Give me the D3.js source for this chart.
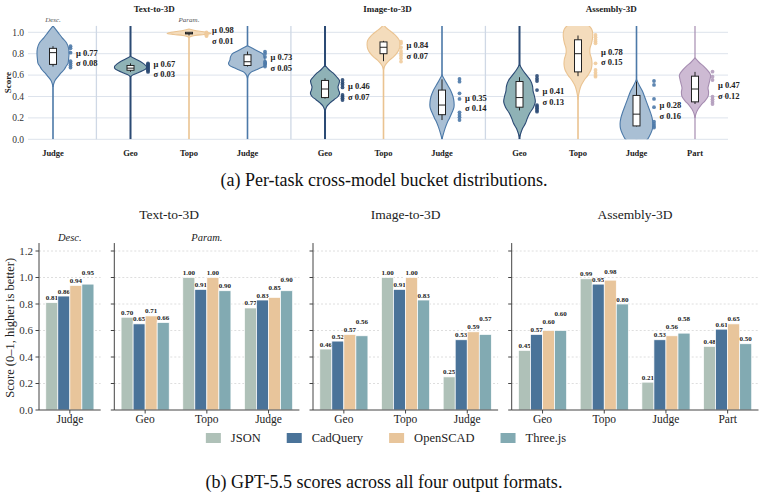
<!DOCTYPE html>
<html><head><meta charset="utf-8">
<script src="https://cdn.jsdelivr.net/npm/d3@7"></script>
<style>body{margin:0;background:#fff} svg{display:block} text{font-family:"Liberation Serif","Times New Roman",serif}</style>
</head><body><svg id="c" width="766" height="496"></svg>
<script>
// ---------------- Panel (a) data ----------------
const violinCats   = ["Judge","Geo","Topo","Judge","Geo","Topo","Judge","Geo","Topo","Judge","Part"];
const violinTask   = ["Text-to-3D","Text-to-3D","Text-to-3D","Text-to-3D","Image-to-3D","Image-to-3D","Image-to-3D","Assembly-3D","Assembly-3D","Assembly-3D","Assembly-3D"];
const violinSub    = ["Desc.","Param.","Param.","Param.","Image","Image","Image","Assembly","Assembly","Assembly","Assembly"];
const violinMean   = [0.77,0.67,0.98,0.73,0.46,0.84,0.35,0.41,0.78,0.28,0.47];
const violinSd     = [0.08,0.03,0.01,0.05,0.07,0.07,0.14,0.13,0.15,0.16,0.12];
// tail extent of each density estimate [low, high]
const violinRange  = [[0,1.1],[0,1.1],[0,1.0],[0,1.1],[0,1.1],[0,1.1],[0,1.1],[0,1.1],[0,1.1],[0,1.1],[0,1.1]];
// density profiles: [score, relative density]
const violinProfiles = [
  [[1.06,0],[1.0,.25],[0.95,.45],[0.90,.68],[0.85,.78],[0.80,.80],[0.75,.78],[0.71,.75],[0.68,.65],[0.65,.55],[0.62,.40],[0.585,.25],[0.55,.10],[0.52,.04],[0.49,0]],
  [[0.775,0],[0.75,.25],[0.72,.55],[0.70,.70],[0.68,.80],[0.66,.78],[0.64,.60],[0.62,.35],[0.60,.10],[0.585,0]],
  [[1.03,0],[1.015,.35],[1.0,.9],[0.99,1.1],[0.98,.75],[0.97,.3],[0.955,0]],
  [[0.875,0],[0.85,.25],[0.82,.55],[0.80,.75],[0.77,.85],[0.74,.88],[0.71,.95],[0.69,.90],[0.67,.70],[0.65,.45],[0.63,.20],[0.60,.05],[0.57,0]],
  [[0.69,0],[0.65,.2],[0.62,.4],[0.58,.6],[0.55,.72],[0.52,.70],[0.49,.65],[0.46,.68],[0.43,.73],[0.40,.65],[0.37,.45],[0.34,.25],[0.31,.1],[0.28,.03],[0.25,0]],
  [[1.07,0],[1.04,.15],[1.01,.35],[0.98,.55],[0.95,.70],[0.92,.80],[0.88,.82],[0.84,.78],[0.80,.65],[0.77,.50],[0.74,.30],[0.71,.15],[0.68,.05],[0.65,0]],
  [[0.60,0],[0.55,.15],[0.50,.30],[0.45,.45],[0.40,.55],[0.35,.60],[0.30,.60],[0.25,.50],[0.20,.38],[0.15,.25],[0.10,.15],[0.05,.07],[0.0,0]],
  [[0.70,0],[0.65,.15],[0.60,.35],[0.55,.55],[0.50,.65],[0.45,.68],[0.40,.75],[0.35,.79],[0.30,.70],[0.25,.53],[0.20,.40],[0.15,.30],[0.10,.15],[0.05,.05],[0.02,0]],
  [[1.12,0],[1.09,.25],[1.06,.55],[1.03,.68],[1.0,.73],[0.95,.73],[0.90,.68],[0.85,.60],[0.80,.60],[0.75,.68],[0.70,.70],[0.65,.65],[0.60,.50],[0.55,.30],[0.50,.15],[0.45,.07],[0.40,.02],[0.37,0]],
  [[0.56,0],[0.50,.15],[0.45,.30],[0.40,.40],[0.35,.50],[0.30,.60],[0.25,.70],[0.20,.78],[0.15,.82],[0.10,.80],[0.05,.70],[0.0,.55],[-0.03,.30],[-0.06,0]],
  [[0.76,0],[0.72,.2],[0.68,.45],[0.64,.65],[0.60,.78],[0.56,.75],[0.52,.70],[0.48,.65],[0.44,.68],[0.40,.65],[0.36,.50],[0.32,.30],[0.28,.15],[0.24,.05],[0.20,0]]
];
// box stats: [whisker low, q1, median, q3, whisker high]
const boxStats = [
  [0.68,0.70,0.81,0.85,0.87],
  [0.63,0.645,0.665,0.69,0.71],
  [0.97,0.985,0.99,1.0,1.0],
  [0.68,0.69,0.725,0.79,0.82],
  [0.38,0.39,0.47,0.55,0.57],
  [0.73,0.80,0.86,0.91,0.92],
  [0.18,0.23,0.32,0.46,0.56],
  [0.27,0.30,0.39,0.54,0.58],
  [0.59,0.63,0.80,0.93,0.97],
  [0.12,0.125,0.235,0.41,0.54],
  [0.33,0.35,0.47,0.59,0.63]
];
const violinPoints = [
  [0.87,0.85,0.81,0.73,0.71,0.69,0.67],
  [0.71,0.70,0.69,0.68,0.67,0.66,0.65,0.64,0.63],
  [1.0,0.99,0.985,0.98,0.97,0.965],
  [0.82,0.80,0.77,0.725,0.71,0.695,0.68],
  [0.554,0.53,0.51,0.485,0.414,0.398,0.383,0.367],
  [0.913,0.897,0.86,0.826,0.804,0.782,0.757,0.726],
  [0.564,0.539,0.43,0.377,0.252,0.227,0.205,0.18],
  [0.592,0.567,0.545,0.46,0.32,0.305,0.29,0.274,0.258],
  [0.975,0.953,0.93,0.913,0.897,0.71,0.648,0.623,0.60,0.585],
  [0.545,0.508,0.377,0.30,0.165,0.143,0.125,0.11],
  [0.632,0.585,0.554,0.398,0.374,0.352,0.33]
];
const violinTicks = [0,0.2,0.4,0.6,0.8,1.0];

// ---------------- Panel (b) data ----------------
const barPanelTask = ["Text-to-3D","Text-to-3D","Image-to-3D","Assembly-3D"];
const barPanelSub  = ["Desc.","Param.","",""];
const barCats = [["Judge"],["Geo","Topo","Judge"],["Geo","Topo","Judge"],["Geo","Topo","Judge","Part"]];
const formats = ["JSON","CadQuery","OpenSCAD","Three.js"];
const jsonScores     = [0.81, 0.70,1.00,0.77, 0.46,1.00,0.25, 0.45,0.99,0.21,0.48];
const cadqueryScores = [0.86, 0.65,0.91,0.83, 0.52,0.91,0.53, 0.57,0.95,0.53,0.61];
const openscadScores = [0.94, 0.71,1.00,0.85, 0.57,1.00,0.59, 0.60,0.98,0.56,0.65];
const threejsScores  = [0.95, 0.66,0.90,0.90, 0.56,0.83,0.57, 0.60,0.80,0.58,0.50];
const barTicks = [0,0.2,0.4,0.6,0.8,1.0,1.2];

// ---------------- styles ----------------
const violinStyle = {
  Judge:{fill:"#a9bfd4",stroke:"#4c79a8",dot:"#4c79a8",lw:1.6},
  Geo:{fill:"#8fb2b6",stroke:"#2b4a74",dot:"#2b4a74",lw:2.0},
  Topo:{fill:"#f4dcbc",stroke:"#eac391",dot:"#efcb9c",lw:1.6},
  Part:{fill:"#cdbad3",stroke:"#a68db1",dot:"#b39cbd",lw:1.2}
};
const formatColor = {"JSON":"#afc1b8","CadQuery":"#4a7399","OpenSCAD":"#e8c59b","Three.js":"#82aab2"};

const svg = d3.select("#c");

// ================= PANEL (a) =================
const aLeft = 28, aRight = 728;
const yA = d3.scaleLinear().domain([0,1]).range([139.3,32.3]);
const aTop = yA(1.06), aBot = yA(0);
let g = 0; const slot = violinSub.map((s,i)=>{ if(i>0 && s!==violinSub[i-1]) g++; return i + g*0.325; });
const xA = d3.scaleLinear().domain([0, d3.max(slot)]).range([53, 695]);
const wS = d3.scaleLinear().domain([0,1]).range([0,20]);

const gA = svg.append("g");
gA.append("defs").append("clipPath").attr("id","clipA").append("rect")
  .attr("x",aLeft).attr("y",aTop).attr("width",aRight-aLeft).attr("height",aBot-aTop);

gA.selectAll("line.grid").data(violinTicks).join("line")
  .attr("x1",aLeft).attr("x2",aRight).attr("y1",d=>yA(d)).attr("y2",d=>yA(d))
  .attr("stroke","#dde3ec").attr("stroke-width",1);
violinSub.forEach((s,i)=>{
  if(i>0 && s!==violinSub[i-1]){
    const xa = xA(slot[i-1]), xb = xA(slot[i]);
    const xs = xa + 0.56*(xb-xa);
    gA.append("line").attr("x1",xs).attr("x2",xs).attr("y1",aTop).attr("y2",aBot)
      .attr("stroke","#cfd8e5").attr("stroke-width",1.3);
  }
});
gA.selectAll("text.ytick").data(violinTicks).join("text")
  .attr("x",24).attr("y",d=>yA(d)).attr("dy","0.35em").attr("text-anchor","end")
  .attr("font-size","9.5px").attr("fill","#333").text(d=>d.toFixed(1));
gA.append("text").attr("transform",`translate(11,${yA(0.53)}) rotate(-90)`).attr("text-anchor","middle")
  .attr("font-size","9px").attr("font-weight","bold").attr("fill","#222").text("Score");

const vClip = gA.append("g").attr("clip-path","url(#clipA)");
violinCats.forEach((cat,i)=>{
  const cx = xA(slot[i]); const st = violinStyle[cat];
  vClip.append("line").attr("x1",cx).attr("x2",cx)
    .attr("y1",yA(violinRange[i][0])).attr("y2",yA(violinRange[i][1]))
    .attr("stroke",st.stroke).attr("stroke-width",st.lw);
  const area = d3.area().curve(d3.curveCatmullRom)
    .y(d=>yA(d[0])).x0(d=>cx-wS(d[1])).x1(d=>cx+wS(d[1]));
  vClip.append("path").attr("d",area(violinProfiles[i]))
    .attr("fill",st.fill).attr("stroke",st.stroke).attr("stroke-width",1.1);
  const [lo,q1,md,q3,hi] = boxStats[i];
  gA.append("line").attr("x1",cx).attr("x2",cx).attr("y1",yA(lo)).attr("y2",yA(hi))
    .attr("stroke","#222").attr("stroke-width",1);
  gA.append("rect").attr("x",cx-3.5).attr("width",7).attr("y",yA(q3)).attr("height",Math.max(1,yA(q1)-yA(q3)))
    .attr("fill","#fff").attr("stroke","#222").attr("stroke-width",1);
  gA.append("line").attr("x1",cx-3.5).attr("x2",cx+3.5).attr("y1",yA(md)).attr("y2",yA(md))
    .attr("stroke","#222").attr("stroke-width",1);
  gA.selectAll(null).data(violinPoints[i]).join("circle")
    .attr("cx",cx+17.5).attr("cy",d=>yA(d)).attr("r",1.9).attr("fill",st.dot).attr("opacity",0.9);
  const ly = yA(violinMean[i]);
  gA.append("text").attr("x",cx+23).attr("y",ly-1).attr("font-size","8.5px").attr("font-weight","bold")
    .attr("fill","#222").text("μ "+violinMean[i].toFixed(2));
  gA.append("text").attr("x",cx+23).attr("y",ly+9.5).attr("font-size","8.5px").attr("font-weight","bold")
    .attr("fill","#222").text("σ "+violinSd[i].toFixed(2));
  gA.append("text").attr("x",cx).attr("y",156).attr("text-anchor","middle").attr("font-size","8.5px")
    .attr("font-weight","bold").attr("fill","#222").text(cat);
});
d3.groups(violinCats.map((c,i)=>({i,task:violinTask[i],sub:violinSub[i]})), d=>d.task).forEach(([task,arr])=>{
  const xs = arr.map(d=>xA(slot[d.i]));
  gA.append("text").attr("x",(d3.min(xs)+d3.max(xs))/2+4).attr("y",12).attr("text-anchor","middle")
    .attr("font-size","9px").attr("font-weight","bold").attr("fill","#222").text(task);
});
d3.groups(violinCats.map((c,i)=>({i,sub:violinSub[i]})), d=>d.sub).forEach(([sub,arr])=>{
  if(sub!=="Desc." && sub!=="Param.") return;
  const xs = arr.map(d=>xA(slot[d.i]));
  gA.append("text").attr("x",(d3.min(xs)+d3.max(xs))/2).attr("y",22).attr("text-anchor","middle")
    .attr("font-size","7px").attr("font-style","italic").attr("fill","#555").text(sub);
});
svg.append("text").attr("x",384).attr("y",186).attr("text-anchor","middle").attr("font-size","18px")
  .attr("fill","#111").text("(a) Per-task cross-model bucket distributions.");

// ================= PANEL (b) =================
const yB = d3.scaleLinear().domain([0,1.2]).range([410,251]);
const bTop = yB(1.26), bBot = yB(0);
const unit = 61.7, gap = 13.6, bLeft = 39;
const series = {"JSON":jsonScores,"CadQuery":cadqueryScores,"OpenSCAD":openscadScores,"Three.js":threejsScores};
const gB = svg.append("g");
let catOffset = 0;
const panelExt = [];
barCats.forEach((cats,p)=>{
  const x0 = bLeft + catOffset*unit + p*gap, x1 = x0 + cats.length*unit;
  panelExt.push([x0,x1]);
  const xb = d3.scaleBand().domain(cats).range([x0,x1]).paddingInner(0.22).paddingOuter(0.11);
  const xi = d3.scaleBand().domain(formats).range([0,xb.bandwidth()]);
  gB.selectAll(null).data(barTicks.filter(t=>t>0)).join("line")
    .attr("x1",x0).attr("x2",x1).attr("y1",d=>yB(d)).attr("y2",d=>yB(d))
    .attr("stroke","#d6d6d6").attr("stroke-width",0.8).attr("stroke-dasharray","2,2");
  cats.forEach((c,ci)=>{
    const idx = catOffset + ci;
    let prevY = null;
    formats.forEach(f=>{
      const v = series[f][idx];
      const bx = xb(c) + xi(f);
      gB.append("rect").attr("x",bx).attr("width",xi.bandwidth()).attr("y",yB(v)).attr("height",bBot-yB(v))
        .attr("fill",formatColor[f]).attr("stroke","#fff").attr("stroke-width",0.7);
      let ly = yB(v) - 2.5;
      if(prevY!==null && Math.abs(ly-prevY) < 4.5) ly = prevY - 8;
      prevY = ly;
      gB.append("text").attr("x",bx+xi.bandwidth()/2).attr("y",ly).attr("text-anchor","middle")
        .attr("font-size","7px").attr("font-weight","bold").attr("fill","#222").text(v.toFixed(2));
    });
    const cx = xb(c)+xb.bandwidth()/2;
    gB.append("line").attr("x1",cx).attr("x2",cx).attr("y1",bBot).attr("y2",bBot+3.5).attr("stroke","#444");
    gB.append("text").attr("x",cx).attr("y",423).attr("text-anchor","middle").attr("font-size","11.5px")
      .attr("fill","#222").text(c);
  });
  gB.append("line").attr("x1",x0).attr("x2",x0).attr("y1",bTop).attr("y2",bBot).attr("stroke","#444").attr("stroke-width",1);
  gB.append("line").attr("x1",x0).attr("x2",x1).attr("y1",bBot).attr("y2",bBot).attr("stroke","#444").attr("stroke-width",1);
  gB.selectAll(null).data(barTicks).join("line")
    .attr("x1",x0-3.5).attr("x2",x0).attr("y1",d=>yB(d)).attr("y2",d=>yB(d)).attr("stroke","#444");
  if(p===0){
    gB.selectAll(null).data(barTicks).join("text")
      .attr("x",x0-6).attr("y",d=>yB(d)).attr("dy","0.35em").attr("text-anchor","end")
      .attr("font-size","11px").attr("fill","#333").text(d=>d.toFixed(1));
  }
  if(barPanelSub[p]){
    gB.append("text").attr("x",(x0+x1)/2).attr("y",241).attr("text-anchor","middle")
      .attr("font-size","10.5px").attr("font-style","italic").attr("fill","#222").text(barPanelSub[p]);
  }
  catOffset += cats.length;
});
d3.groups(barPanelTask.map((t,p)=>({t,p})), d=>d.t).forEach(([task,arr])=>{
  const x0 = panelExt[arr[0].p][0], x1 = panelExt[arr[arr.length-1].p][1];
  gB.append("text").attr("x",(x0+x1)/2).attr("y",219).attr("text-anchor","middle")
    .attr("font-size","13.5px").attr("fill","#222").text(task);
});
gB.append("text").attr("transform",`translate(14,${yB(0.62)}) rotate(-90)`).attr("text-anchor","middle")
  .attr("font-size","12.5px").attr("fill","#222").text("Score (0–1, higher is better)");

const leg = svg.append("g");
let lx = 0;
formats.forEach(f=>{
  const it = leg.append("g").attr("transform",`translate(${lx},0)`);
  it.append("rect").attr("x",0).attr("y",-5).attr("width",15).attr("height",10).attr("fill",formatColor[f]);
  const t = it.append("text").attr("x",25).attr("y",0).attr("dy","0.35em").attr("font-size","12.5px").attr("fill","#222").text(f);
  lx += 25 + t.node().getComputedTextLength() + 26;
});
const legW = lx - 26;
leg.attr("transform",`translate(${386 - legW/2},438)`);

svg.append("text").attr("x",384).attr("y",488).attr("text-anchor","middle").attr("font-size","18px")
  .attr("fill","#111").text("(b) GPT-5.5 scores across all four output formats.");
</script></body></html>
